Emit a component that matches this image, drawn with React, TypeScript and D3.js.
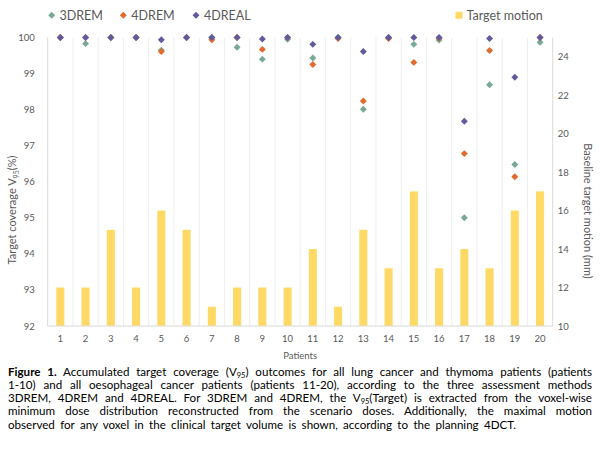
import * as d3 from "d3";
import { useEffect, useRef } from "react";

// chart data
const patients = ["1", "2", "3", "4", "5", "6", "7", "8", "9", "10", "11", "12", "13", "14", "15", "16", "17", "18", "19", "20"];
const motion = [12, 12, 15, 12, 16, 15, 11, 12, 12, 12, 14, 11, 15, 13, 17, 13, 14, 13, 16, 17];
const rem3d = [100, 99.83, 100, 100, 99.65, 100, 100, 99.73, 99.4, 99.95, 99.43, 100, 98.01, 100, 99.81, 99.93, 95.0, 98.69, 96.48, 99.87];
const rem4d = [100, 100, 100, 100, 99.61, 100, 99.94, 100, 99.67, 100, 99.25, 99.97, 98.24, 99.97, 99.31, 99.98, 96.78, 99.64, 96.14, 100];
const real4d = [100, 100, 100, 100, 99.94, 100, 100, 100, 99.96, 100, 99.81, 100, 99.61, 100, 100, 100, 97.68, 99.97, 98.9, 100];
const leftTicks = [92, 93, 94, 95, 96, 97, 98, 99, 100];
const rightTicks = [10, 12, 14, 16, 18, 20, 22, 24];

interface Seg {
  t: string;
  bold?: boolean;
  sub?: boolean;
}

const caption: Seg[][] = [
  [
    { t: "Figure 1.", bold: true },
    { t: " Accumulated target coverage (V" },
    { t: "95", sub: true },
    { t: ") outcomes for all lung cancer and thymoma patients (patients" },
  ],
  [{ t: "1-10) and all oesophageal cancer patients (patients 11-20), according to the three assessment methods" }],
  [
    { t: "3DREM, 4DREM and 4DREAL. For 3DREM and 4DREM, the V" },
    { t: "95", sub: true },
    { t: "(Target) is extracted from the voxel-wise" },
  ],
  [{ t: "minimum dose distribution reconstructed from the scenario doses. Additionally, the maximal motion" }],
  [{ t: "observed for any voxel in the clinical target volume is shown, according to the planning 4DCT." }],
];
const captionWidths = [584, 584, 584, 584, 508];

const series = [
  { name: "3DREM", values: rem3d, color: "#78A994" },
  { name: "4DREM", values: rem4d, color: "#E26A2C" },
  { name: "4DREAL", values: real4d, color: "#5F5B9D" },
];

export default function App() {
  const svgRef = useRef<SVGSVGElement>(null);

  useEffect(() => {
    if (!svgRef.current) return;
    const svg = d3.select(svgRef.current);
    svg.selectAll("*").remove();

    const left = 47.7;
    const right = 552.7;
    const top = 37.5;
    const bottom = 326;
    const grey = "#595959";

    const x = d3.scaleBand().domain(patients).range([left, right]).padding(0);
    const yL = d3.scaleLinear().domain([92, 100]).range([bottom, top]);
    const yR = d3.scaleLinear().domain([10, 25]).range([bottom, top]);
    const cx = (p: string) => x(p)! + x.bandwidth() / 2;

    // vertical gridlines between patients
    svg
      .append("g")
      .selectAll("line")
      .data(patients.slice(1))
      .enter()
      .append("line")
      .attr("x1", (d) => x(d)!)
      .attr("x2", (d) => x(d)!)
      .attr("y1", top)
      .attr("y2", bottom)
      .attr("stroke", "#EEEEEE")
      .attr("stroke-width", 1);

    // bars (right axis)
    const barW = x.bandwidth() * 0.32;
    svg
      .append("g")
      .selectAll("rect")
      .data(motion)
      .enter()
      .append("rect")
      .attr("x", (d, i) => cx(patients[i]) - barW / 2)
      .attr("width", barW)
      .attr("y", (d) => yR(d))
      .attr("height", (d) => bottom - yR(d))
      .attr("fill", "#FFD966");

    // axis lines
    const axisCol = "#D9D9D9";
    svg.append("line").attr("x1", left).attr("x2", right).attr("y1", bottom).attr("y2", bottom).attr("stroke", axisCol);
    svg.append("line").attr("x1", left).attr("x2", left).attr("y1", top).attr("y2", bottom).attr("stroke", axisCol);
    svg.append("line").attr("x1", right).attr("x2", right).attr("y1", top).attr("y2", bottom).attr("stroke", axisCol);

    // axes
    const gL = svg
      .append("g")
      .attr("transform", `translate(${left},0)`)
      .call(d3.axisLeft(yL).tickValues(leftTicks).tickSize(0).tickPadding(13));
    const gR = svg
      .append("g")
      .attr("transform", `translate(${right},0)`)
      .call(d3.axisRight(yR).tickValues(rightTicks).tickSize(0).tickPadding(5));
    const gB = svg
      .append("g")
      .attr("transform", `translate(0,${bottom})`)
      .call(d3.axisBottom(x).tickSize(0).tickPadding(9));
    [gL, gR, gB].forEach((g) => {
      g.select(".domain").remove();
      g.selectAll("text").attr("fill", grey).style("font-size", "9.5px").style("font-family", "Lato, sans-serif");
    });

    // markers
    const diamond = d3.symbol(d3.symbolSquare, 24)()!;
    series.forEach((s) => {
      svg
        .append("g")
        .selectAll("path")
        .data(s.values)
        .enter()
        .append("path")
        .attr("d", diamond)
        .attr("transform", (d, i) => `translate(${cx(patients[i])},${yL(d)}) rotate(45)`)
        .attr("fill", s.color);
    });

    // axis titles
    const lt = svg
      .append("text")
      .attr("transform", "translate(16,210) rotate(-90)")
      .attr("text-anchor", "middle")
      .attr("fill", grey)
      .style("font-size", "11px");
    lt.append("tspan").text("Target coverage V");
    lt.append("tspan").text("95").style("font-size", "7px").attr("dy", 2.5);
    lt.append("tspan").text("(%)").attr("dy", -2.5);

    svg
      .append("text")
      .attr("transform", "translate(584,211) rotate(90)")
      .attr("text-anchor", "middle")
      .attr("fill", grey)
      .style("font-size", "11px")
      .text("Baseline target motion (mm)");

    svg
      .append("text")
      .attr("x", (left + right) / 2)
      .attr("y", 358.5)
      .attr("text-anchor", "middle")
      .attr("fill", grey)
      .style("font-size", "9.5px")
      .text("Patients");

    // legend
    const legend = [
      { name: "3DREM", color: series[0].color, mx: 51.7, tx: 59.5 },
      { name: "4DREM", color: series[1].color, mx: 123.3, tx: 131.3 },
      { name: "4DREAL", color: series[2].color, mx: 196, tx: 204 },
    ];
    legend.forEach((l) => {
      svg.append("path").attr("d", diamond).attr("transform", `translate(${l.mx},15.3) rotate(45)`).attr("fill", l.color);
      svg.append("text").attr("x", l.tx).attr("y", 19.8).attr("fill", grey).style("font-size", "12.5px").text(l.name);
    });
    svg.append("rect").attr("x", 455.5).attr("y", 11.8).attr("width", 7).attr("height", 7).attr("fill", "#FFD966");
    svg.append("text").attr("x", 466.5).attr("y", 19.8).attr("fill", grey).style("font-size", "12.5px").text("Target motion");

    // caption, justified
    caption.forEach((segs, i) => {
      const t = svg
        .append("text")
        .attr("x", 8)
        .attr("y", 375.5 + i * 13.3)
        .attr("fill", "#000")
        .style("font-size", "11.6px");
      let shift = 0;
      segs.forEach((s) => {
        const ts = t.append("tspan").text(s.t);
        if (s.bold) ts.attr("font-weight", "bold");
        if (s.sub) {
          ts.style("font-size", "7.5px").attr("dy", 2);
          shift = 2;
        } else if (shift) {
          ts.attr("dy", -shift);
          shift = 0;
        }
      });
      const node = t.node()!;
      const natural = node.getComputedTextLength();
      const spaces = (node.textContent!.match(/ /g) || []).length;
      t.attr("word-spacing", (captionWidths[i] - natural) / spaces);
    });
  }, []);

  return (
    <svg
      ref={svgRef}
      width={600}
      height={452}
      style={{ position: "absolute", left: 0, top: 0, background: "#fff", fontFamily: "Lato, 'Noto Sans', sans-serif" }}
    />
  );
}
